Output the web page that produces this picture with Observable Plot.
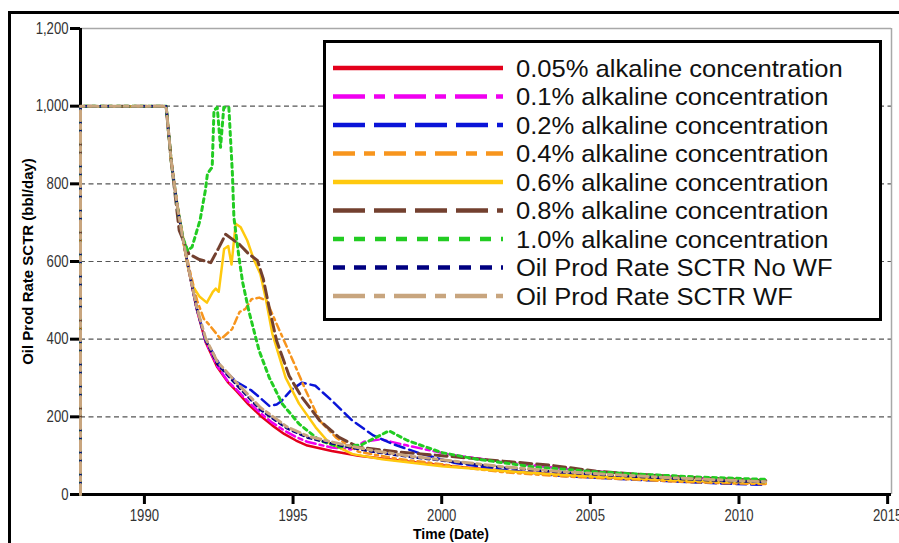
<!DOCTYPE html>
<html>
<head>
<meta charset="utf-8">
<script src="https://cdn.jsdelivr.net/npm/d3@7"></script>
<script src="https://cdn.jsdelivr.net/npm/@observablehq/plot@0.6"></script>
<style>
  html, body { margin: 0; padding: 0; background: #fff; }
  #wrap { position: relative; width: 899px; height: 543px; overflow: hidden; }
  #border { position: absolute; left: 8px; top: 11px; width: 1000px; height: 1000px;
            border-top: 3px solid #000; border-left: 3px solid #000; pointer-events: none; }
  #legend { position: absolute; left: 0; top: 0; pointer-events: none; }
</style>
</head>
<body>
<div id="wrap">
  <div id="chart"></div>
  <svg id="legend" width="899" height="543"></svg>
  <div id="border"></div>
</div>
<script>
// Oil production rate (bbl/day) by simulation case: [year, rate]
const rate005 = [[1987.85,0],[1987.85,1000],[1990.73,1000],[1990.9,860],[1991.1,745],[1991.3,655],[1991.5,575],[1991.75,480],[1992.06,392],[1992.45,328],[1992.8,290],[1993.1,266],[1993.5,232],[1993.9,203],[1994.3,178],[1994.7,156],[1995.1,139],[1995.48,126],[1996.3,112],[1997.2,100],[1998.5,88],[1999.5,79],[2000.4,72],[2002,62],[2004,51],[2006,43],[2008,36],[2009.5,32],[2010.9,29]];
const rate01 = [[1987.85,0],[1987.85,1000],[1990.73,1000],[1990.9,858],[1991.1,745],[1991.3,656],[1991.5,576],[1991.75,482],[1992.06,394],[1992.45,331],[1992.8,292],[1993.1,270],[1993.5,238],[1993.9,210],[1994.3,185],[1994.7,165],[1995.1,148],[1995.5,135],[1996.3,121],[1996.95,116],[1997.4,136],[1997.95,142],[1998.85,126],[2000.2,104],[2002,84],[2004,67],[2006,55],[2008,45],[2009.5,39],[2010.9,35]];
const rate02 = [[1987.85,0],[1987.85,1000],[1990.73,1000],[1990.9,860],[1991.1,745],[1991.3,656],[1991.5,576],[1991.75,482],[1992.06,396],[1992.3,365],[1992.6,325],[1993.1,290],[1993.6,268],[1993.95,245],[1994.2,228],[1994.45,232],[1994.6,240],[1994.95,270],[1995.3,288],[1995.75,280],[1996.3,242],[1997.0,190],[1997.7,152],[1998.35,130],[1999.3,105],[2000.4,82],[2002,64],[2004,48],[2006,40],[2008,33],[2009.5,28],[2010.9,25]];
const rate04 = [[1987.85,0],[1987.85,1000],[1990.73,1000],[1990.9,862],[1991.1,750],[1991.3,662],[1991.5,585],[1991.77,500],[1992.0,452],[1992.17,438],[1992.57,400],[1992.95,426],[1993.2,470],[1993.4,478],[1993.6,503],[1993.86,507],[1994.1,500],[1994.5,430],[1995.0,344],[1995.43,267],[1995.9,190],[1996.44,147],[1997.2,110],[1998.5,92],[2000,78],[2001,67],[2002,58],[2004,47],[2006,40],[2008,33],[2009.5,29],[2010.9,27]];
const rate06 = [[1987.85,0],[1987.85,1000],[1990.73,1000],[1990.9,860],[1991.1,745],[1991.3,655],[1991.45,590],[1991.6,540],[1991.85,510],[1992.1,494],[1992.3,522],[1992.4,530],[1992.5,522],[1992.68,632],[1992.82,640],[1992.93,592],[1993.07,697],[1993.24,688],[1993.46,654],[1993.68,605],[1993.9,568],[1994.08,505],[1994.3,415],[1994.75,301],[1995.2,234],[1995.76,173],[1996.2,134],[1997,104],[1998,91],[2000,73],[2002,61],[2004,51],[2006,43],[2008,37],[2009.5,33],[2010.9,30]];
const rate08 = [[1987.85,0],[1987.85,1000],[1990.73,1000],[1990.9,860],[1991.05,760],[1991.17,680],[1991.5,619],[1991.85,605],[1992.23,597],[1992.5,635],[1992.73,670],[1993.0,655],[1993.2,644],[1993.5,620],[1993.8,603],[1994.0,555],[1994.2,480],[1994.45,395],[1994.87,305],[1995.3,250],[1995.9,190],[1996.55,147],[1997.2,122],[1998.57,109],[2000,100],[2001.9,87],[2003.7,75],[2005.2,60],[2007,50],[2009,42],[2010.9,36]];
const rate10 = [[1987.85,0],[1987.85,1000],[1990.73,1000],[1990.9,860],[1991.1,745],[1991.3,660],[1991.45,628],[1991.6,637],[1991.87,706],[1992.05,783],[1992.12,826],[1992.28,843],[1992.34,989],[1992.45,997],[1992.56,894],[1992.67,997],[1992.84,997],[1992.96,826],[1993.01,714],[1993.18,611],[1993.3,548],[1993.52,470],[1993.86,370],[1994.2,301],[1994.64,233],[1995.2,182],[1995.9,139],[1996.55,122],[1997.3,128],[1998.23,164],[1998.85,139],[2000,108],[2001.1,92],[2003,72],[2005.2,58],[2007,51],[2008.6,45],[2010.9,39]];
const rateNoWF = [[1987.85,0],[1987.85,1000],[1990.73,1000],[1990.9,860],[1991.1,745],[1991.3,655],[1991.5,576],[1991.75,483],[1992.06,398],[1992.45,336],[1993.1,282],[1993.9,218],[1994.8,170],[1995.5,146],[1996.6,126],[1997.7,110],[1999,96],[2000.4,84],[2002,70],[2004,57],[2006,48],[2008,40],[2009.5,35],[2010.9,32]];
const rateWF = [[1987.85,0],[1987.85,1000],[1990.73,1000],[1990.9,860],[1991.1,745],[1991.3,656],[1991.5,577],[1991.75,485],[1992.06,402],[1992.45,342],[1993.1,288],[1993.9,224],[1994.8,174],[1995.5,150],[1996.6,130],[1997.7,113],[1999,98],[2000.4,86],[2002,72],[2004,59],[2006,50],[2008,42],[2009.5,37],[2010.9,33]];

const seriesNames = ["0.05% alkaline concentration","0.1% alkaline concentration","0.2% alkaline concentration","0.4% alkaline concentration","0.6% alkaline concentration","0.8% alkaline concentration","1.0% alkaline concentration","Oil Prod Rate SCTR No WF","Oil Prod Rate SCTR WF"];
const seriesData = [rate005, rate01, rate02, rate04, rate06, rate08, rate10, rateNoWF, rateWF];

const xDomain = [1987.85, 2015.13];
const yDomain = [0, 1200];
const xTicks = [1990, 1995, 2000, 2005, 2010, 2015];
const yTicks = [0, 200, 400, 600, 800, 1000, 1200];
const gridValues = [200, 400, 600, 800, 1000];
const xTitle = "Time (Date)";
const yTitle = "Oil Prod Rate SCTR (bbl/day)";

// line styles: chart dash, legend dash, stroke widths
const styles = [
  {color: "#e3001b", dash: null,        legendDash: null,          width: 2.5},
  {color: "#f000f0", dash: "10,4,4,4",  legendDash: "32,9,11,9",   width: 2.5},
  {color: "#0a14d8", dash: "10,5",      legendDash: "32,9",        width: 2.5},
  {color: "#f7951d", dash: "7,4,3,4",   legendDash: "22,9,11,9",   width: 2.5},
  {color: "#ffc90e", dash: null,        legendDash: null,          width: 2.5},
  {color: "#73402f", dash: "12,5",      legendDash: "32,9",        width: 3},
  {color: "#22cc22", dash: "4,4",       legendDash: "11,10",       width: 3},
  {color: "#000080", dash: "4,4",       legendDash: "12,9",        width: 2.5},
  {color: "#c8a57e", dash: "10,4,4,4",  legendDash: "32,9,11,9",   width: 3}
];

const rows = seriesData.flatMap((pts, i) => pts.map(([t, v]) => ({series: seriesNames[i], t, v})));

const lineMarks = seriesNames.map((name, i) =>
  Plot.line(rows.filter(d => d.series === name), {
    x: "t", y: "v",
    stroke: styles[i].color,
    strokeWidth: styles[i].width,
    strokeDasharray: styles[i].dash,
    strokeLinejoin: "round"
  })
);

const chart = Plot.plot({
  width: 899,
  height: 543,
  marginLeft: 80,
  marginRight: 8,
  marginTop: 28,
  marginBottom: 49,
  style: {
    fontFamily: "'Liberation Sans', Arial, sans-serif",
    fontSize: "16px",
    color: "#333",
    background: "transparent",
    overflow: "visible"
  },
  x: {domain: xDomain},
  y: {domain: yDomain},
  marks: [
    Plot.ruleY(gridValues, {stroke: "#555", strokeWidth: 1.2, strokeDasharray: "5,3.5"}),
    Plot.ruleY([yDomain[1]], {stroke: "#a8a8a8", strokeWidth: 1.5}),
    Plot.ruleX([xDomain[1]], {stroke: "#a8a8a8", strokeWidth: 1.5}),
    Plot.axisY(yTicks, {tickSize: 10, tickPadding: 2, tickFormat: d3.format(","), label: null, stroke: "#000", strokeWidth: 3}),
    Plot.axisX(xTicks, {tickSize: 10, tickPadding: 5, tickFormat: d => String(d), label: null, stroke: "#000", strokeWidth: 3}),
    Plot.ruleX([xDomain[0]], {stroke: "#000", strokeWidth: 3}),
    Plot.ruleY([yDomain[0]], {stroke: "#000", strokeWidth: 3}),
    ...lineMarks,
    Plot.text([yTitle], {text: d => d, frameAnchor: "left", textAnchor: "middle", rotate: -90, dx: -52,
      fontWeight: "bold", fontSize: 15, fill: "#000"}),
    Plot.text([xTitle], {text: d => d, frameAnchor: "bottom", textAnchor: "middle", dy: 44, dx: -35,
      fontWeight: "bold", fontSize: 14, fill: "#000"})
  ]
});
document.getElementById("chart").appendChild(chart);

// narrow tick labels: compress the glyphs horizontally
d3.select(chart).selectAll('g[aria-label="x-axis tick label"] text, g[aria-label="y-axis tick label"] text')
  .each(function () {
    const w = this.getComputedTextLength();
    this.setAttribute("textLength", (w * 0.82).toFixed(2));
    this.setAttribute("lengthAdjust", "spacingAndGlyphs");
  });

// Legend box inside the plot area
const leg = d3.select("#legend");
leg.append("rect")
  .attr("x", 324.5).attr("y", 41.5).attr("width", 556).attr("height", 278)
  .attr("fill", "#fff").attr("stroke", "#000").attr("stroke-width", 3);
seriesNames.forEach((name, i) => {
  const cy = 68 + i * 28.5;
  leg.append("line")
    .attr("x1", 333).attr("x2", 503).attr("y1", cy).attr("y2", cy)
    .attr("stroke", styles[i].color).attr("stroke-width", 4.5)
    .attr("stroke-dasharray", styles[i].legendDash);
  leg.append("text")
    .attr("transform", `translate(516,${cy + 8.5}) scale(1.065,1)`)
    .attr("font-family", "'Liberation Sans', Arial, sans-serif")
    .attr("font-size", 24)
    .attr("fill", "#111")
    .text(name);
});
</script>
</body>
</html>
